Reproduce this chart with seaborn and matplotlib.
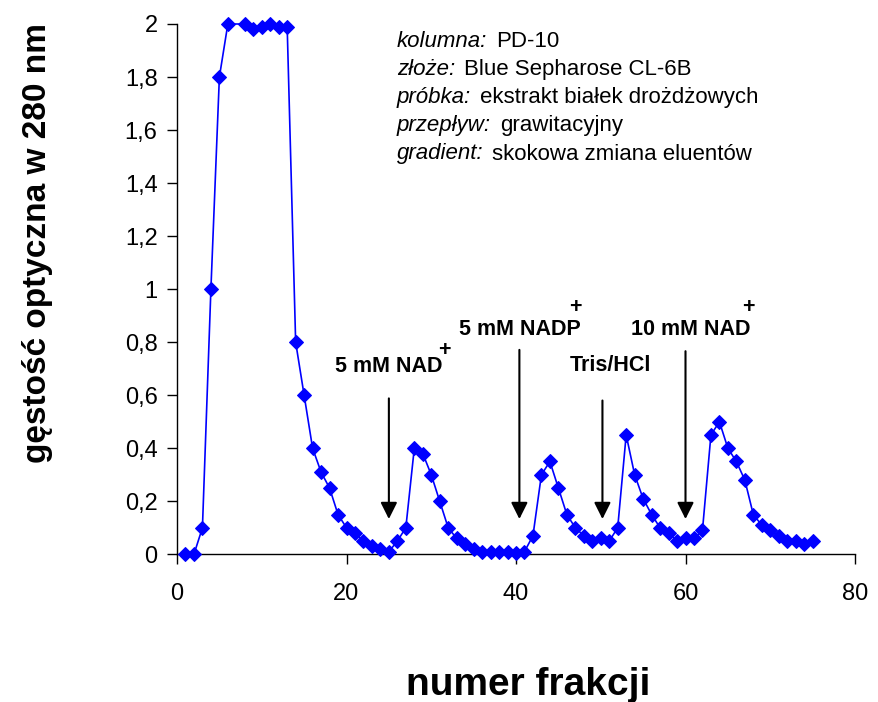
import numpy as np
import pandas as pd
import matplotlib
matplotlib.use("Agg")
import matplotlib.pyplot as plt
import seaborn as sns
from matplotlib.ticker import FuncFormatter, MultipleLocator

# ---------------- data ----------------
fractions = [1, 2, 3, 4, 5, 6, 8, 9, 10, 11, 12, 13, 14, 15, 16, 17, 18, 19, 20,
             21, 22, 23, 24, 25, 26, 27, 28, 29, 30, 31, 32, 33, 34, 35, 36, 37,
             38, 39, 40, 41, 42, 43, 44, 45, 46, 47, 48, 49, 50, 51, 52, 53, 54,
             55, 56, 57, 58, 59, 60, 61, 62, 63, 64, 65, 66, 67, 68, 69, 70, 71,
             72, 73, 74, 75]
absorbance = [0.00, 0.00, 0.10, 1.00, 1.80, 2.00, 2.00, 1.98, 1.99, 2.00, 1.99, 1.99,
              0.80, 0.60, 0.40, 0.31, 0.25, 0.15, 0.10, 0.08, 0.05, 0.03, 0.02, 0.01,
              0.05, 0.10, 0.40, 0.38, 0.30, 0.20, 0.10, 0.06, 0.04, 0.02, 0.01, 0.01,
              0.01, 0.01, 0.005, 0.01, 0.07, 0.30, 0.35, 0.25, 0.15, 0.10, 0.07, 0.05,
              0.06, 0.05, 0.10, 0.45, 0.30, 0.21, 0.15, 0.10, 0.08, 0.05, 0.06, 0.06,
              0.09, 0.45, 0.50, 0.40, 0.35, 0.28, 0.15, 0.11, 0.09, 0.07, 0.05, 0.05,
              0.04, 0.05]

info_keys = ["kolumna:", "złoże:", "próbka:", "przepływ:", "gradient:"]
info_vals = ["PD-10", "Blue Sepharose CL-6B", "ekstrakt białek drożdżowych",
             "grawitacyjny", "skokowa zmiana eluentów"]

eluent_labels = ["5 mM NAD", "5 mM NADP", "Tris/HCl", "10 mM NAD"]
eluent_plus = [True, True, False, True]
arrow_x = [25.0, 40.4, 50.2, 60.0]
arrow_top = [0.588, 0.771, 0.580, 0.766]
arrow_tip = 0.133
label_x = [25.0, 40.5, 51.1, 60.6]
label_y = [0.708, 0.848, 0.712, 0.848]
plus_x = [31.6, 47.0, None, 67.4]
plus_y = [0.768, 0.932, None, 0.932]

# ---------------- style ----------------
sns.set_style("ticks")
plt.rcParams["font.family"] = ["Liberation Sans", "DejaVu Sans"]
plt.rcParams["text.color"] = "black"
plt.rcParams["axes.labelcolor"] = "black"
plt.rcParams["xtick.color"] = "black"
plt.rcParams["ytick.color"] = "black"

W, H = 879, 702
fig = plt.figure(figsize=(W / 100, H / 100), dpi=100)
ax = fig.add_axes([177 / W, 1 - 554.3 / H, 678 / W, 530.3 / H])

df = pd.DataFrame({"frakcja": fractions, "od": absorbance})
sns.lineplot(data=df, x="frakcja", y="od", ax=ax, color="#0000FF", linewidth=1.2,
             marker="D", markersize=7.5, markeredgecolor="#0000FF",
             markerfacecolor="#0000FF", clip_on=False, zorder=3)

ax.set_xlim(0, 80)
ax.set_ylim(0, 2)
ax.xaxis.set_major_locator(MultipleLocator(20))
ax.yaxis.set_major_locator(MultipleLocator(0.2))


def comma_fmt(v, pos):
    s = f"{v:.1f}".rstrip("0").rstrip(".")
    return s.replace(".", ",")


ax.yaxis.set_major_formatter(FuncFormatter(comma_fmt))
ax.xaxis.set_major_formatter(FuncFormatter(comma_fmt))
ax.tick_params(direction="out", length=7, width=1, colors="black", labelsize=17)
ax.tick_params(axis="x", pad=14)
ax.tick_params(axis="y", pad=7)
sns.despine(ax=ax)
for s in ("left", "bottom"):
    ax.spines[s].set_color("black")
    ax.spines[s].set_linewidth(1)
ax.set_xlabel("")
ax.set_ylabel("")

fig.text(38 / W, 1 - 243 / H, "gęstość optyczna w 280 nm", rotation=90,
         ha="center", va="center", fontsize=24, fontweight="bold")
fig.text(528.5 / W, 1 - 685 / H, "numer frakcji", ha="center", va="center",
         fontsize=28, fontweight="bold")

# info block
renderer = fig.canvas.get_renderer()
for i, (k, v) in enumerate(zip(info_keys, info_vals)):
    yb = 1 - (46.7 + 28.2 * i) / H
    t = fig.text(397 / W, yb, k, fontsize=16, style="italic", va="baseline", ha="left")
    bb = t.get_window_extent(renderer=renderer)
    fig.text((bb.x1 + 9) / W, yb, v, fontsize=16, va="baseline", ha="left")

# arrows and eluent labels
for i in range(len(eluent_labels)):
    ax.annotate("", xy=(arrow_x[i], arrow_tip), xytext=(arrow_x[i], arrow_top[i]),
                arrowprops=dict(arrowstyle="-|>,head_length=1.0,head_width=0.5",
                                mutation_scale=10, lw=1.5, color="black",
                                shrinkA=0, shrinkB=0))
    ax.text(label_x[i], label_y[i], eluent_labels[i], ha="center", va="center",
            fontsize=15.5, fontweight="bold")
    if eluent_plus[i]:
        ax.text(plus_x[i], plus_y[i], "+", ha="center", va="center",
                fontsize=15.5, fontweight="bold")

fig.savefig("out.png", dpi=100)
